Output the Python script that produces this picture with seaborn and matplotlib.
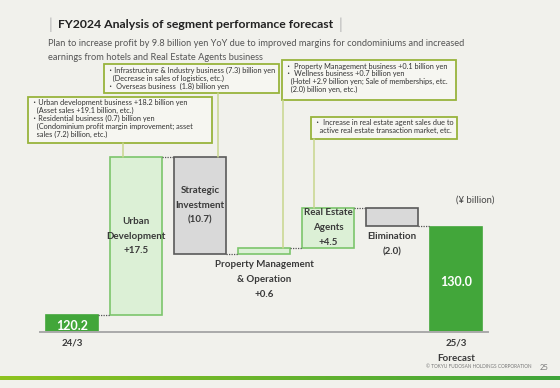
import matplotlib.pyplot as plt
import matplotlib.patches as mpatches
from matplotlib.colors import LinearSegmentedColormap
import numpy as np
import pandas as pd
import seaborn as sns

# waterfall data (¥ billion)
categories = ["24/3", "Urban Development", "Strategic Investment",
              "Property Management & Operation", "Real Estate Agents",
              "Elimination", "25/3 Forecast"]
changes = [120.2, 17.5, -10.7, 0.6, 4.5, -2.0, 130.0]
kinds = ["total", "delta", "delta", "delta", "delta", "delta", "total"]
bar_labels = ["120.2", "Urban\nDevelopment\n+17.5", "Strategic\nInvestment\n(10.7)",
              "Property Management\n& Operation\n+0.6", "Real Estate\nAgents\n+4.5",
              "Elimination\n(2.0)", "130.0"]
label_where = ["in", "in", "in", "below", "in", "below", "in"]
tick_labels = ["24/3", "", "", "", "", "", "25/3\nForecast"]
axis_floor = 118.3
axis_top = 144.6

notes = [
    "・Urban development business +18.2 billion yen\n   (Asset sales +19.1 billion, etc.)\n・Residential business (0.7) billion yen\n   (Condominium profit margin improvement; asset\n   sales (7.2) billion, etc.)",
    "・Infrastructure & Industry business (7.3) billion yen\n   (Decrease in sales of logistics, etc.)\n・ Overseas business  (1.8) billion yen",
    "・ Property Management business +0.1 billion yen\n・ Wellness business +0.7 billion yen\n   (Hotel +2.9 billion yen; Sale of memberships, etc.\n   (2.0) billion yen, etc.)",
    "・ Increase in real estate agent sales due to\n   active real estate transaction market, etc.",
]
note_bar = [1, 2, 3, 4]

# compute waterfall geometry
rows = []
level = 0.0
for cat, ch, kind in zip(categories, changes, kinds):
    if kind == "total":
        level = ch
        rows.append((cat, axis_floor, ch - axis_floor, ch))
    else:
        start = level
        level = level + ch
        rows.append((cat, min(start, level), abs(ch), level))
df = pd.DataFrame(rows, columns=["cat", "bottom", "height", "level"])

BG = "#f1f1ec"
W, H = 560, 388

sns.set_theme(style="white")
plt.rcParams["font.family"] = ["Lato", "Noto Sans CJK JP", "DejaVu Sans"]

fig = plt.figure(figsize=(W / 100, H / 100), dpi=100, facecolor=BG)


def fx(px):
    return px / W


def fy(py):
    return 1 - py / H


ax = fig.add_axes([fx(40), fy(332), fx(488) - fx(40), fy(95) - fy(332)])
ax.set_facecolor("none")

sns.barplot(data=df, x="cat", y="height", bottom=df["bottom"], order=categories,
            width=0.8, errorbar=None, ax=ax, color="#cccccc", linewidth=1.2)

for i, p in enumerate(ax.patches):
    if kinds[i] == "total":
        p.set_facecolor("#42a63a")
        p.set_edgecolor("#42a63a")
    elif changes[i] > 0:
        p.set_facecolor("#dcf0d6")
        p.set_edgecolor("#7cc56c")
    else:
        p.set_facecolor("#d9d9d9")
        p.set_edgecolor("#5a5a5a")

# connectors
for i in range(len(df) - 1):
    ax.plot([i + 0.4, i + 0.6], [df["level"][i], df["level"][i]],
            color="#555555", lw=0.9, ls=(0, (1, 1)))

# bar labels
for i, (txt, where) in enumerate(zip(bar_labels, label_where)):
    b, h = df["bottom"][i], df["height"][i]
    if kinds[i] == "total":
        ax.text(i, b + h / 2 - 0.3, txt, ha="center", va="center", color="white",
                fontsize=9, fontweight="bold")
    elif where == "in":
        ax.text(i, b + h / 2, txt, ha="center", va="center", color="#3a3a3a",
                fontsize=7, fontweight="bold", linespacing=1.85)
    else:
        ax.text(i, b - 0.7, txt, ha="center", va="top", color="#3a3a3a",
                fontsize=7, fontweight="bold", linespacing=1.85)

ax.set_xlim(-0.5, len(categories) - 0.5)
ax.set_ylim(axis_floor, axis_top)
ax.set_xticks(range(len(categories)))
ax.set_xticklabels(tick_labels, fontsize=7, fontweight="bold", color="#3a3a3a",
                   linespacing=1.8)
ax.set_xticks(np.arange(-0.5, len(categories), 1), minor=True)
ax.tick_params(axis="x", which="major", length=0, pad=5)
ax.tick_params(axis="x", which="minor", length=3, direction="inout", color="#888888", width=0.8)
ax.set_yticks([])
ax.set_xlabel("")
ax.set_ylabel("")
for s in ["top", "left", "right"]:
    ax.spines[s].set_visible(False)
ax.spines["bottom"].set_color("#aaaaaa")
ax.spines["bottom"].set_linewidth(1.4)

# note boxes (pixel boxes: left, top, right, bottom) and leader lines
note_boxes = [(28, 97, 212, 143), (104, 64, 279, 93), (282, 60, 456, 100), (311, 117, 457, 139)]
leader_x = [123, 218, 283, 314]
for box, txt, lx, bi in zip(note_boxes, notes, leader_x, note_bar):
    l, t, r, b = box
    top_val = df["bottom"][bi] + df["height"][bi]
    py_bar = 332 - (top_val - axis_floor) / (axis_top - axis_floor) * (332 - 95)
    fig.add_artist(plt.Line2D([fx(lx), fx(lx)], [fy(b), fy(py_bar)], color="#c8d68e", lw=1.1))
    fig.add_artist(mpatches.Rectangle((fx(l), fy(b)), fx(r) - fx(l), fy(t) - fy(b),
                                      transform=fig.transFigure, facecolor="#f6f6f1",
                                      edgecolor="#98b43c", lw=1.3))
    fig.text(fx(l + 3), fy(t + 2.5), txt, ha="left", va="top", fontsize=5.3,
             color="#333333", linespacing=1.13)

# title & subtitle
fig.text(fx(50), fy(25), "|", fontsize=11, color="#b5b5b5", va="center", ha="center")
fig.text(fx(58), fy(25), "FY2024 Analysis of segment performance forecast",
         fontsize=8.8, fontweight="bold", color="#222222", va="center")
fig.text(fx(340), fy(25), "|", fontsize=11, color="#b5b5b5", va="center", ha="center")
fig.text(fx(48), fy(44), "Plan to increase profit by 9.8 billion yen YoY due to improved margins for condominiums and increased",
         fontsize=6.65, color="#555555", va="center")
fig.text(fx(48), fy(58), "earnings from hotels and Real Estate Agents business",
         fontsize=6.65, color="#555555", va="center")

fig.text(fx(475), fy(200), "(¥ billion)", fontsize=6.8, color="#444444", ha="center", va="center")

# footer
fig.text(fx(531), fy(367), "© TOKYU FUDOSAN HOLDINGS CORPORATION", fontsize=3.4,
         color="#777777", ha="right", va="center")
fig.text(fx(540), fy(367), "25", fontsize=5.5, color="#777777", ha="left", va="center")
gax = fig.add_axes([0, fy(380), 1, fy(376) - fy(380)])
grad = np.linspace(0, 1, 256).reshape(1, -1)
cmap = LinearSegmentedColormap.from_list("g", ["#8ec31f", "#3fa43a"])
gax.imshow(grad, aspect="auto", cmap=cmap)
gax.axis("off")

fig.savefig("out.png", dpi=100, facecolor=BG)
